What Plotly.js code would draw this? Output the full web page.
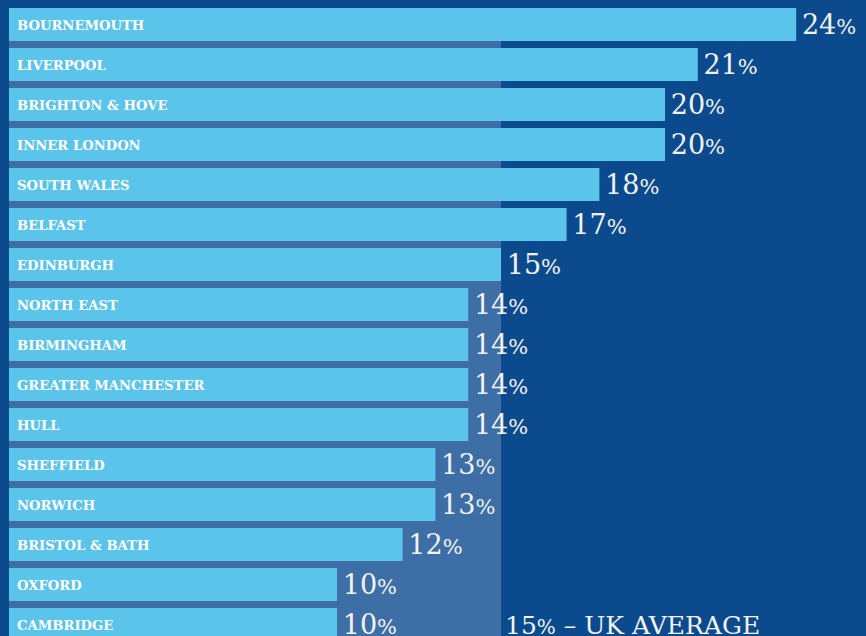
<!DOCTYPE html>
<html>
<head>
<meta charset="utf-8">
<script src="https://cdn.plot.ly/plotly-3.0.1.min.js"></script>
<style>
html,body{margin:0;padding:0;background:#0b4b8d;}
#chart{width:866px;height:636px;}
</style>
</head>
<body>
<div id="chart"></div>
<script>
var categories = ["BOURNEMOUTH","LIVERPOOL","BRIGHTON & HOVE","INNER LONDON","SOUTH WALES","BELFAST","EDINBURGH","NORTH EAST","BIRMINGHAM","GREATER MANCHESTER","HULL","SHEFFIELD","NORWICH","BRISTOL & BATH","OXFORD","CAMBRIDGE"];
var values = [24,21,20,20,18,17,15,14,14,14,14,13,13,12,10,10];
var ukAverage = 15;
var averageLabel = "– UK AVERAGE";

var idx = categories.map(function(_, i){ return i; });

var trace = {
  type: 'bar',
  orientation: 'h',
  x: values,
  y: idx,
  marker: {color: '#5bc4ea', line: {width: 0}},
  text: values.map(function(v){ return "\u200A" + v + "<span style='font-size:21px'>%</span>"; }),
  texttemplate: '%{text}',
  textposition: 'outside',
  cliponaxis: false,
  textfont: {family: 'DejaVu Serif, serif', size: 27, color: '#f2f2f2'},
  hoverinfo: 'none'
};

var annotations = categories.map(function(c, i){
  return {
    x: 0, y: i, xref: 'x', yref: 'y',
    text: c, showarrow: false,
    xanchor: 'left', yanchor: 'middle', xshift: 6, yshift: -1,
    font: {family: 'DejaVu Serif, serif', size: 13.2, color: '#ffffff', weight: 'bold'}
  };
});
annotations.push({
  x: ukAverage, y: categories.length - 1, xref: 'x', yref: 'y',
  text: ukAverage + "<span style='font-size:20px'>%</span> " + averageLabel,
  showarrow: false, xanchor: 'left', yanchor: 'middle', xshift: 2, yshift: -1,
  font: {family: 'DejaVu Serif, serif', size: 25, color: '#f2f2f2'}
});

var layout = {
  width: 866, height: 636,
  margin: {l: 9, r: 0, t: 0, b: 0, pad: 0},
  paper_bgcolor: '#0b4b8d',
  plot_bgcolor: '#0b4b8d',
  showlegend: false,
  bargap: 0.175,
  xaxis: {range: [0, 857/32.8], visible: false, fixedrange: true},
  yaxis: {range: [15.2875, -0.6125], visible: false, fixedrange: true},
  shapes: [{
    type: 'rect', xref: 'x', yref: 'y', layer: 'below',
    x0: 0, x1: ukAverage, y0: -0.4125, y1: 16,
    fillcolor: '#3d6ea5', line: {width: 0}
  }],
  annotations: annotations
};

Plotly.newPlot('chart', [trace], layout, {displayModeBar: false, staticPlot: true});
</script>
</body>
</html>
